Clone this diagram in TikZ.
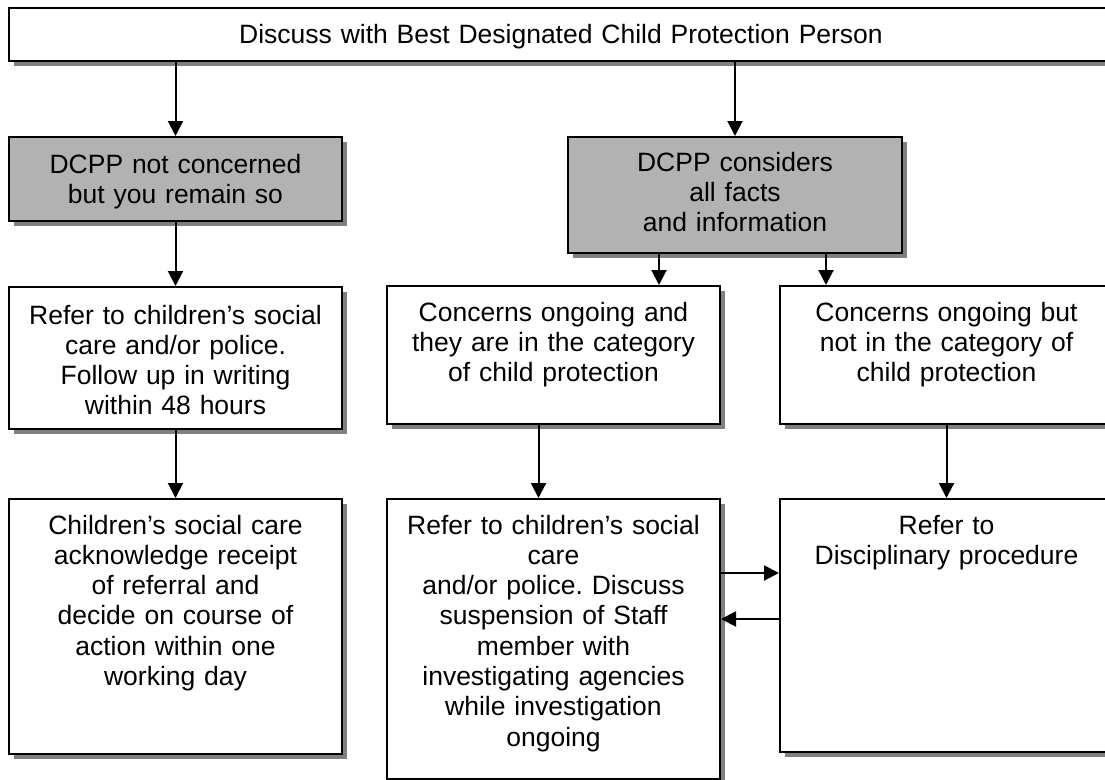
\documentclass[tikz,border=0pt]{standalone}
\usepackage{fontspec}
\setmainfont{Liberation Sans}
\frenchspacing
\usetikzlibrary{positioning, shadows, arrows.meta}

\tikzset{
    box/.style={draw, line width=2pt, fill=white, align=center, anchor=north west,
        inner xsep=0pt, inner ysep=0pt, text height=35pt,
        font=\fontsize{26.5}{30.3}\selectfont,
        drop shadow={shadow xshift=4.5pt, shadow yshift=-4.5pt, fill=black!50, opacity=1}},
    greybox/.style={box, fill=black!30},
    arr/.style={line width=2pt, -{Triangle[length=15pt, width=15pt]}},
}

\begin{document}
\begin{tikzpicture}[x=1pt, y=-1pt]
        \useasboundingbox (0,0) rectangle (1105,779);
        \clip (0,0) rectangle (1105,779);
        \node[box, text width=1104pt, text depth=18pt] (top) at (8,7)
            {Discuss with Best Designated Child Protection Person};
        \node[greybox, text width=333pt, text depth=48pt, text height=36pt] (notconc) at (8,136)
            {DCPP not concerned\\but you remain so};
        \node[greybox, text width=334pt, text depth=82pt, text height=34pt] (considers) at (567,136)
            {DCPP considers\\all facts\\and information};
        \node[box, text width=333pt, text depth=105pt, text height=37pt] (refer) at (8,286)
            {Refer to children’s social\\care and/or police.\\Follow up in writing\\within 48 hours};
        \node[box, text width=333pt, text depth=220pt] (acknowledge) at (8,498)
            {Children’s social care\\acknowledge receipt\\of referral and\\decide on course of\\action within one\\working day};
        \node[box, text width=333pt, text depth=103pt] (ongoing) at (386,285)
            {Concerns ongoing and\\they are in the category\\of child protection};
        \node[box, text width=333pt, text depth=103pt] (notcp) at (779,285)
            {Concerns ongoing but\\not in the category of\\child protection};
        \node[box, text width=333pt, text depth=245pt] (referpol) at (386,498)
            {Refer to children’s social\\care\\and/or police. Discuss\\suspension of Staff\\member with\\investigating agencies\\while investigation\\ongoing};
        \node[box, text width=333pt, text depth=218pt] (discip) at (779,498)
            {Refer to\\Disciplinary procedure};

        \draw[arr] (top.south -| notconc.north) -- (notconc.north);
        \draw[arr] (top.south -| considers.north) -- (considers.north);
        \draw[arr] (notconc.south) -- (refer.north);
        \draw[arr] (refer.south) -- (acknowledge.north);
        \draw[arr] ([xshift=-76pt]considers.south) -- ([xshift=-76pt]considers.south |- ongoing.north);
        \draw[arr] ([xshift=91pt]considers.south) -- ([xshift=91pt]considers.south |- notcp.north);
        \draw[arr] ([xshift=-15pt]ongoing.south) -- ([xshift=-15pt]ongoing.south |- referpol.north);
        \draw[arr] (notcp.south) -- (discip.north);
        \draw[arr] ([yshift=-75pt]referpol.north east) -- ([yshift=-75pt]referpol.north east -| discip.west);
        \draw[arr] ([yshift=-121pt]discip.north west) -- ([yshift=-121pt]discip.north west -| referpol.east);
    \end{tikzpicture}
\end{document}
